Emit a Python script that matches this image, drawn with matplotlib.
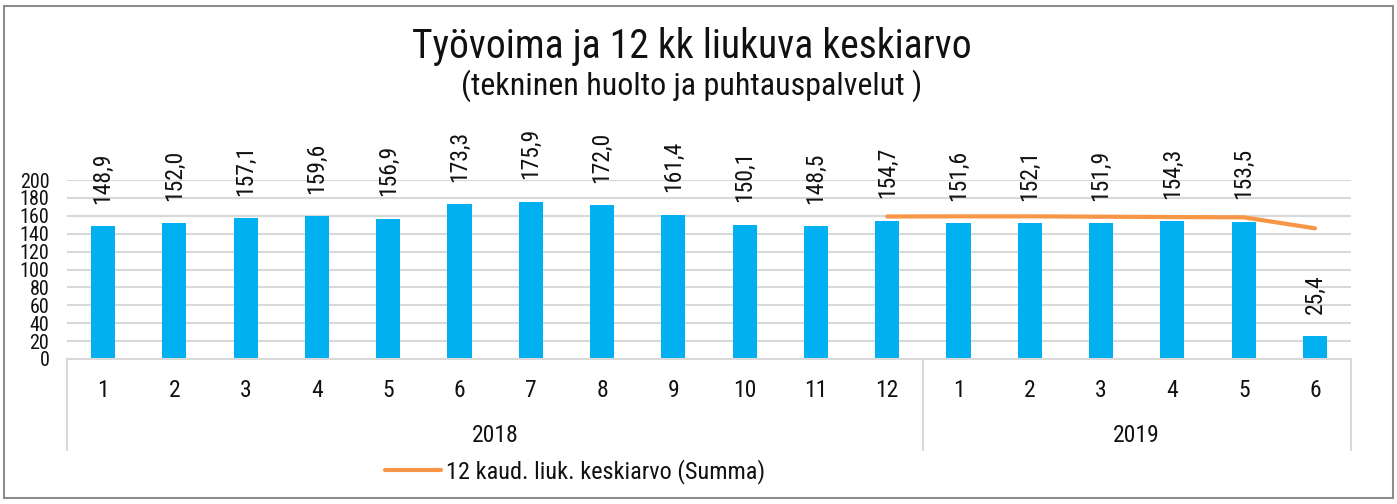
import matplotlib.pyplot as plt
from matplotlib.patches import Rectangle

plt.rcParams['font.family'] = ['Roboto Condensed', 'DejaVu Sans']

# data
months = ['1', '2', '3', '4', '5', '6', '7', '8', '9', '10', '11', '12',
          '1', '2', '3', '4', '5', '6']
years = ['2018', '2019']
year_counts = [12, 6]
tyovoima = [148.9, 152.0, 157.1, 159.6, 156.9, 173.3, 175.9, 172.0, 161.4,
            150.1, 148.5, 154.7, 151.6, 152.1, 151.9, 154.3, 153.5, 25.4]
liuk_start = 11
liuk_keskiarvo = [159.2, 159.4, 159.4, 159.0, 158.6, 158.3, 146.0]

BAR = '#00B0F0'
LINE = '#F79646'
GRID = '#D9D9D9'
TXT = '#111111'

fig = plt.figure(figsize=(13.97, 5.04), dpi=100)
ax = fig.add_axes([67.4 / 1397, 1 - 359 / 504, 1283.2 / 1397, 179 / 504])

x = list(range(len(tyovoima)))
ax.bar(x, tyovoima, width=0.34, color=BAR, zorder=2)
xl = list(range(liuk_start, liuk_start + len(liuk_keskiarvo)))
ax.plot(xl, liuk_keskiarvo, color=LINE, lw=3, solid_capstyle='round', zorder=3,
        label='12 kaud. liuk. keskiarvo (Summa)')

# arvot pystyyn palkkien päälle
for i, v in zip(x, tyovoima):
    ax.annotate(f'{v:.1f}'.replace('.', ','), (i, v), xytext=(0, 16),
                textcoords='offset points', rotation=90, ha='center', va='bottom',
                fontsize=17, color=TXT, annotation_clip=False)

ax.set_xlim(-0.5, len(tyovoima) - 0.5)
ax.set_ylim(0, 200)
ax.set_yticks(range(0, 201, 20))
ax.tick_params(axis='y', length=0, labelsize=14.5, pad=13, colors=TXT)
ax.set_xticks([])
ax.grid(axis='y', color=GRID, lw=1.5, zorder=0)
for s in ['top', 'right', 'left']:
    ax.spines[s].set_visible(False)
ax.spines['bottom'].set_color(GRID)
ax.spines['bottom'].set_linewidth(1.5)

# kaksitasoinen luokka-akseli
tr = ax.get_xaxis_transform()
for i, m in enumerate(months):
    ax.text(i, -0.175, m, transform=tr, ha='center', va='center', fontsize=17,
            color=TXT)
start = 0
edges = [-0.5]
for y, n in zip(years, year_counts):
    ax.text(start + (n - 1) / 2, -0.425, y, transform=tr, ha='center', va='center',
            fontsize=17, color=TXT)
    start += n
    edges.append(start - 0.5)
for e in edges:
    ax.plot([e, e], [0, -0.51], transform=tr, color=GRID, lw=1.5, clip_on=False)

fig.text(0.495, 1 - 47 / 504, 'Työvoima ja 12 kk liukuva keskiarvo', ha='center',
         va='center', fontsize=28.5, color=TXT)
fig.text(0.495, 1 - 86 / 504, '(tekninen huolto ja puhtauspalvelut )', ha='center',
         va='center', fontsize=23, color=TXT)

fig.legend(loc='center', bbox_to_anchor=(575 / 1397, 1 - 472 / 504), frameon=False,
           fontsize=17.5, handlelength=2.3, handletextpad=0.2, labelcolor=TXT)

fig.patches.append(Rectangle((4 / 1397, 6 / 504), 1389 / 1397, 492 / 504,
                             transform=fig.transFigure, fill=False,
                             edgecolor='#8C8C8C', lw=1.5))

fig.savefig('out.png', dpi=100)
